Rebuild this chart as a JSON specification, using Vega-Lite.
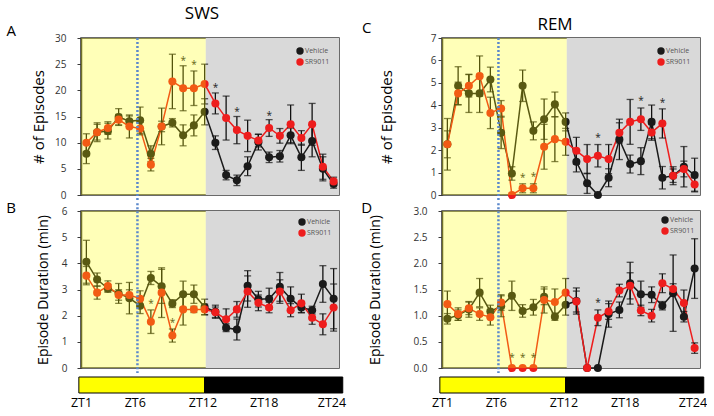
{
"$schema":"https://vega.github.io/schema/vega-lite/v6.json",
"padding":{"left":5,"top":3,"right":0,"bottom":0},
"background":"white",
"datasets":{
"phases":[{"phase":"light","start":0.5,"end":12.1},{"phase":"dark","start":12.1,"end":24.5}],
"bar":[{"phase":"light","start":0.3,"end":12.0},{"phase":"dark","start":12.0,"end":24.85}],
"stars":[
{"panel":"A","zt":10,"y":25.6},{"panel":"A","zt":11,"y":24.9},{"panel":"A","zt":13,"y":20.5},{"panel":"A","zt":15,"y":15.9},{"panel":"A","zt":18,"y":15.1},
{"panel":"B","zt":7,"y":2.44},{"panel":"B","zt":9,"y":1.73},
{"panel":"C","zt":8,"y":0.77},{"panel":"C","zt":9,"y":0.82},{"panel":"C","zt":15,"y":2.52},{"panel":"C","zt":19,"y":4.18},{"panel":"C","zt":21,"y":4.12},
{"panel":"D","zt":7,"y":0.19},{"panel":"D","zt":8,"y":0.19},{"panel":"D","zt":9,"y":0.19},{"panel":"D","zt":15,"y":1.24}
],
"obs":[
{"panel":"A","group":"Vehicle","zt":1,"mean":7.9,"err":1.9},
{"panel":"A","group":"Vehicle","zt":2,"mean":12.0,"err":1.8},
{"panel":"A","group":"Vehicle","zt":3,"mean":12.2,"err":1.5},
{"panel":"A","group":"Vehicle","zt":4,"mean":14.9,"err":1.6},
{"panel":"A","group":"Vehicle","zt":5,"mean":14.1,"err":1.0},
{"panel":"A","group":"Vehicle","zt":6,"mean":14.3,"err":2.5},
{"panel":"A","group":"Vehicle","zt":7,"mean":7.9,"err":1.5},
{"panel":"A","group":"Vehicle","zt":8,"mean":13.1,"err":1.0},
{"panel":"A","group":"Vehicle","zt":9,"mean":13.8,"err":0.8},
{"panel":"A","group":"Vehicle","zt":10,"mean":11.4,"err":2.0},
{"panel":"A","group":"Vehicle","zt":11,"mean":13.3,"err":2.0},
{"panel":"A","group":"Vehicle","zt":12,"mean":15.9,"err":2.5},
{"panel":"A","group":"Vehicle","zt":13,"mean":10.0,"err":1.3},
{"panel":"A","group":"Vehicle","zt":14,"mean":3.8,"err":0.9},
{"panel":"A","group":"Vehicle","zt":15,"mean":2.8,"err":1.0},
{"panel":"A","group":"Vehicle","zt":16,"mean":5.5,"err":1.8},
{"panel":"A","group":"Vehicle","zt":17,"mean":10.1,"err":1.5},
{"panel":"A","group":"Vehicle","zt":18,"mean":7.2,"err":1.0},
{"panel":"A","group":"Vehicle","zt":19,"mean":7.4,"err":1.1},
{"panel":"A","group":"Vehicle","zt":20,"mean":11.4,"err":1.4},
{"panel":"A","group":"Vehicle","zt":21,"mean":7.2,"err":2.5},
{"panel":"A","group":"Vehicle","zt":22,"mean":10.3,"err":3.0},
{"panel":"A","group":"Vehicle","zt":23,"mean":5.0,"err":2.3},
{"panel":"A","group":"Vehicle","zt":24,"mean":2.1,"err":0.8},
{"panel":"A","group":"SR9011","zt":1,"mean":10.0,"err":1.7},
{"panel":"A","group":"SR9011","zt":2,"mean":12.0,"err":1.5},
{"panel":"A","group":"SR9011","zt":3,"mean":12.8,"err":1.2},
{"panel":"A","group":"SR9011","zt":4,"mean":14.4,"err":1.0},
{"panel":"A","group":"SR9011","zt":5,"mean":13.1,"err":2.2},
{"panel":"A","group":"SR9011","zt":6,"mean":12.7,"err":1.2},
{"panel":"A","group":"SR9011","zt":7,"mean":5.8,"err":1.2},
{"panel":"A","group":"SR9011","zt":8,"mean":13.1,"err":3.5},
{"panel":"A","group":"SR9011","zt":9,"mean":21.7,"err":5.2},
{"panel":"A","group":"SR9011","zt":10,"mean":20.4,"err":4.3},
{"panel":"A","group":"SR9011","zt":11,"mean":20.4,"err":3.3},
{"panel":"A","group":"SR9011","zt":12,"mean":21.2,"err":3.8},
{"panel":"A","group":"SR9011","zt":13,"mean":17.5,"err":2.0},
{"panel":"A","group":"SR9011","zt":14,"mean":14.7,"err":4.2},
{"panel":"A","group":"SR9011","zt":15,"mean":12.4,"err":2.6},
{"panel":"A","group":"SR9011","zt":16,"mean":11.3,"err":3.0},
{"panel":"A","group":"SR9011","zt":17,"mean":10.4,"err":1.2},
{"panel":"A","group":"SR9011","zt":18,"mean":12.8,"err":1.6},
{"panel":"A","group":"SR9011","zt":19,"mean":11.3,"err":1.4},
{"panel":"A","group":"SR9011","zt":20,"mean":13.5,"err":3.7},
{"panel":"A","group":"SR9011","zt":21,"mean":10.9,"err":1.4},
{"panel":"A","group":"SR9011","zt":22,"mean":13.5,"err":4.0},
{"panel":"A","group":"SR9011","zt":23,"mean":5.4,"err":2.4},
{"panel":"A","group":"SR9011","zt":24,"mean":2.6,"err":0.8},
{"panel":"B","group":"Vehicle","zt":1,"mean":4.06,"err":0.82},
{"panel":"B","group":"Vehicle","zt":2,"mean":3.38,"err":0.25},
{"panel":"B","group":"Vehicle","zt":3,"mean":3.04,"err":0.15},
{"panel":"B","group":"Vehicle","zt":4,"mean":2.85,"err":0.38},
{"panel":"B","group":"Vehicle","zt":5,"mean":2.67,"err":0.6},
{"panel":"B","group":"Vehicle","zt":6,"mean":2.38,"err":0.3},
{"panel":"B","group":"Vehicle","zt":7,"mean":3.44,"err":0.25},
{"panel":"B","group":"Vehicle","zt":8,"mean":3.12,"err":0.65},
{"panel":"B","group":"Vehicle","zt":9,"mean":2.46,"err":0.15},
{"panel":"B","group":"Vehicle","zt":10,"mean":2.82,"err":0.5},
{"panel":"B","group":"Vehicle","zt":11,"mean":2.82,"err":0.35},
{"panel":"B","group":"Vehicle","zt":12,"mean":2.33,"err":0.3},
{"panel":"B","group":"Vehicle","zt":13,"mean":2.15,"err":0.25},
{"panel":"B","group":"Vehicle","zt":14,"mean":1.54,"err":0.15},
{"panel":"B","group":"Vehicle","zt":15,"mean":1.47,"err":0.4},
{"panel":"B","group":"Vehicle","zt":16,"mean":3.14,"err":0.58},
{"panel":"B","group":"Vehicle","zt":17,"mean":2.63,"err":0.3},
{"panel":"B","group":"Vehicle","zt":18,"mean":2.65,"err":0.4},
{"panel":"B","group":"Vehicle","zt":19,"mean":3.10,"err":0.55},
{"panel":"B","group":"Vehicle","zt":20,"mean":2.65,"err":0.45},
{"panel":"B","group":"Vehicle","zt":21,"mean":2.31,"err":0.2},
{"panel":"B","group":"Vehicle","zt":22,"mean":2.21,"err":0.15},
{"panel":"B","group":"Vehicle","zt":23,"mean":3.21,"err":0.7},
{"panel":"B","group":"Vehicle","zt":24,"mean":2.65,"err":1.15},
{"panel":"B","group":"SR9011","zt":1,"mean":3.53,"err":0.35},
{"panel":"B","group":"SR9011","zt":2,"mean":2.88,"err":0.25},
{"panel":"B","group":"SR9011","zt":3,"mean":3.13,"err":0.2},
{"panel":"B","group":"SR9011","zt":4,"mean":2.79,"err":0.2},
{"panel":"B","group":"SR9011","zt":5,"mean":2.79,"err":0.2},
{"panel":"B","group":"SR9011","zt":6,"mean":2.65,"err":0.3},
{"panel":"B","group":"SR9011","zt":7,"mean":1.77,"err":0.45},
{"panel":"B","group":"SR9011","zt":8,"mean":2.88,"err":0.95},
{"panel":"B","group":"SR9011","zt":9,"mean":1.24,"err":0.25},
{"panel":"B","group":"SR9011","zt":10,"mean":2.24,"err":0.6},
{"panel":"B","group":"SR9011","zt":11,"mean":2.24,"err":0.12},
{"panel":"B","group":"SR9011","zt":12,"mean":2.24,"err":0.2},
{"panel":"B","group":"SR9011","zt":13,"mean":2.13,"err":0.2},
{"panel":"B","group":"SR9011","zt":14,"mean":1.86,"err":0.4},
{"panel":"B","group":"SR9011","zt":15,"mean":2.24,"err":0.3},
{"panel":"B","group":"SR9011","zt":16,"mean":2.92,"err":0.6},
{"panel":"B","group":"SR9011","zt":17,"mean":2.49,"err":0.3},
{"panel":"B","group":"SR9011","zt":18,"mean":2.31,"err":0.2},
{"panel":"B","group":"SR9011","zt":19,"mean":2.92,"err":0.45},
{"panel":"B","group":"SR9011","zt":20,"mean":2.21,"err":0.25},
{"panel":"B","group":"SR9011","zt":21,"mean":2.47,"err":0.35},
{"panel":"B","group":"SR9011","zt":22,"mean":1.92,"err":0.25},
{"panel":"B","group":"SR9011","zt":23,"mean":1.67,"err":0.4},
{"panel":"B","group":"SR9011","zt":24,"mean":2.31,"err":0.9},
{"panel":"C","group":"Vehicle","zt":1,"mean":2.26,"err":1.15},
{"panel":"C","group":"Vehicle","zt":2,"mean":4.87,"err":0.85},
{"panel":"C","group":"Vehicle","zt":3,"mean":4.53,"err":0.85},
{"panel":"C","group":"Vehicle","zt":4,"mean":4.53,"err":0.85},
{"panel":"C","group":"Vehicle","zt":5,"mean":5.15,"err":0.55},
{"panel":"C","group":"Vehicle","zt":6,"mean":2.77,"err":0.7},
{"panel":"C","group":"Vehicle","zt":7,"mean":0.96,"err":0.3},
{"panel":"C","group":"Vehicle","zt":8,"mean":4.87,"err":0.7},
{"panel":"C","group":"Vehicle","zt":9,"mean":2.86,"err":0.4},
{"panel":"C","group":"Vehicle","zt":10,"mean":3.38,"err":0.9},
{"panel":"C","group":"Vehicle","zt":11,"mean":4.04,"err":0.55},
{"panel":"C","group":"Vehicle","zt":12,"mean":3.26,"err":0.4},
{"panel":"C","group":"Vehicle","zt":13,"mean":1.48,"err":0.45},
{"panel":"C","group":"Vehicle","zt":14,"mean":0.52,"err":0.45},
{"panel":"C","group":"Vehicle","zt":15,"mean":0.0,"err":0},
{"panel":"C","group":"Vehicle","zt":16,"mean":0.77,"err":0.4},
{"panel":"C","group":"Vehicle","zt":17,"mean":2.48,"err":0.9},
{"panel":"C","group":"Vehicle","zt":18,"mean":1.38,"err":0.4},
{"panel":"C","group":"Vehicle","zt":19,"mean":1.51,"err":0.6},
{"panel":"C","group":"Vehicle","zt":20,"mean":3.26,"err":0.75},
{"panel":"C","group":"Vehicle","zt":21,"mean":0.77,"err":0.5},
{"panel":"C","group":"Vehicle","zt":22,"mean":0.86,"err":0.3},
{"panel":"C","group":"Vehicle","zt":23,"mean":1.26,"err":0.9},
{"panel":"C","group":"Vehicle","zt":24,"mean":0.89,"err":0.75},
{"panel":"C","group":"SR9011","zt":1,"mean":2.26,"err":0.6},
{"panel":"C","group":"SR9011","zt":2,"mean":4.53,"err":0.5},
{"panel":"C","group":"SR9011","zt":3,"mean":4.87,"err":0.5},
{"panel":"C","group":"SR9011","zt":4,"mean":5.30,"err":0.9},
{"panel":"C","group":"SR9011","zt":5,"mean":3.66,"err":0.7},
{"panel":"C","group":"SR9011","zt":6,"mean":3.86,"err":0.35},
{"panel":"C","group":"SR9011","zt":7,"mean":0.0,"err":0},
{"panel":"C","group":"SR9011","zt":8,"mean":0.30,"err":0.2},
{"panel":"C","group":"SR9011","zt":9,"mean":0.30,"err":0.2},
{"panel":"C","group":"SR9011","zt":10,"mean":2.15,"err":1.0},
{"panel":"C","group":"SR9011","zt":11,"mean":2.49,"err":1.0},
{"panel":"C","group":"SR9011","zt":12,"mean":2.37,"err":0.6},
{"panel":"C","group":"SR9011","zt":13,"mean":1.97,"err":0.6},
{"panel":"C","group":"SR9011","zt":14,"mean":1.60,"err":0.65},
{"panel":"C","group":"SR9011","zt":15,"mean":1.75,"err":0.5},
{"panel":"C","group":"SR9011","zt":16,"mean":1.60,"err":0.65},
{"panel":"C","group":"SR9011","zt":17,"mean":2.77,"err":0.45},
{"panel":"C","group":"SR9011","zt":18,"mean":3.26,"err":1.0},
{"panel":"C","group":"SR9011","zt":19,"mean":3.38,"err":0.5},
{"panel":"C","group":"SR9011","zt":20,"mean":2.79,"err":0.35},
{"panel":"C","group":"SR9011","zt":21,"mean":3.19,"err":0.65},
{"panel":"C","group":"SR9011","zt":22,"mean":0.86,"err":0.4},
{"panel":"C","group":"SR9011","zt":23,"mean":1.16,"err":0.35},
{"panel":"C","group":"SR9011","zt":24,"mean":0.47,"err":0.3},
{"panel":"D","group":"Vehicle","zt":1,"mean":0.94,"err":0.1},
{"panel":"D","group":"Vehicle","zt":2,"mean":1.01,"err":0.1},
{"panel":"D","group":"Vehicle","zt":3,"mean":1.12,"err":0.15},
{"panel":"D","group":"Vehicle","zt":4,"mean":1.44,"err":0.27},
{"panel":"D","group":"Vehicle","zt":5,"mean":1.08,"err":0.12},
{"panel":"D","group":"Vehicle","zt":6,"mean":1.18,"err":0.2},
{"panel":"D","group":"Vehicle","zt":7,"mean":1.38,"err":0.28},
{"panel":"D","group":"Vehicle","zt":8,"mean":1.09,"err":0.12},
{"panel":"D","group":"Vehicle","zt":9,"mean":1.16,"err":0.15},
{"panel":"D","group":"Vehicle","zt":10,"mean":1.36,"err":0.15},
{"panel":"D","group":"Vehicle","zt":11,"mean":0.98,"err":0.07},
{"panel":"D","group":"Vehicle","zt":12,"mean":1.21,"err":0.2},
{"panel":"D","group":"Vehicle","zt":13,"mean":1.28,"err":0.25},
{"panel":"D","group":"Vehicle","zt":14,"mean":0.0,"err":0},
{"panel":"D","group":"Vehicle","zt":15,"mean":0.0,"err":0},
{"panel":"D","group":"Vehicle","zt":16,"mean":1.03,"err":0.25},
{"panel":"D","group":"Vehicle","zt":17,"mean":1.11,"err":0.15},
{"panel":"D","group":"Vehicle","zt":18,"mean":1.62,"err":0.4},
{"panel":"D","group":"Vehicle","zt":19,"mean":1.41,"err":0.25},
{"panel":"D","group":"Vehicle","zt":20,"mean":1.40,"err":0.15},
{"panel":"D","group":"Vehicle","zt":21,"mean":1.19,"err":0.08},
{"panel":"D","group":"Vehicle","zt":22,"mean":1.43,"err":0.73},
{"panel":"D","group":"Vehicle","zt":23,"mean":0.98,"err":0.1},
{"panel":"D","group":"Vehicle","zt":24,"mean":1.90,"err":0.57},
{"panel":"D","group":"SR9011","zt":1,"mean":1.22,"err":0.25},
{"panel":"D","group":"SR9011","zt":2,"mean":1.03,"err":0.12},
{"panel":"D","group":"SR9011","zt":3,"mean":1.14,"err":0.12},
{"panel":"D","group":"SR9011","zt":4,"mean":1.03,"err":0.12},
{"panel":"D","group":"SR9011","zt":5,"mean":0.97,"err":0.15},
{"panel":"D","group":"SR9011","zt":6,"mean":1.25,"err":0.15},
{"panel":"D","group":"SR9011","zt":7,"mean":0.0,"err":0},
{"panel":"D","group":"SR9011","zt":8,"mean":0.0,"err":0},
{"panel":"D","group":"SR9011","zt":9,"mean":0.0,"err":0},
{"panel":"D","group":"SR9011","zt":10,"mean":1.30,"err":0.25},
{"panel":"D","group":"SR9011","zt":11,"mean":1.26,"err":0.25},
{"panel":"D","group":"SR9011","zt":12,"mean":1.44,"err":0.27},
{"panel":"D","group":"SR9011","zt":13,"mean":1.27,"err":0.2},
{"panel":"D","group":"SR9011","zt":14,"mean":0.0,"err":0},
{"panel":"D","group":"SR9011","zt":15,"mean":0.96,"err":0.15},
{"panel":"D","group":"SR9011","zt":16,"mean":1.08,"err":0.15},
{"panel":"D","group":"SR9011","zt":17,"mean":1.48,"err":0.12},
{"panel":"D","group":"SR9011","zt":18,"mean":1.57,"err":0.25},
{"panel":"D","group":"SR9011","zt":19,"mean":1.10,"err":0.1},
{"panel":"D","group":"SR9011","zt":20,"mean":1.00,"err":0.12},
{"panel":"D","group":"SR9011","zt":21,"mean":1.62,"err":0.18},
{"panel":"D","group":"SR9011","zt":22,"mean":1.51,"err":0.1},
{"panel":"D","group":"SR9011","zt":23,"mean":1.24,"err":0.25},
{"panel":"D","group":"SR9011","zt":24,"mean":0.38,"err":0.1}
]
},
"columns":2,
"align":"each",
"spacing":{"row":-5,"column":14},
"resolve":{"scale":{"color":"independent"},"legend":{"color":"independent"}},
"concat":[
{
"width":258,"height":157,
"title":{"text":"SWS","dx":-8,"offset":1,"frame":"group"},
"layer":[
{"data":{"name":"phases"},"transform":[{"filter":"datum.phase==='dark'"}],"mark":{"type":"rect","fill":"#d9d9d9"},
 "encoding":{"x":{"field":"start","type":"quantitative","scale":{"domain":[0.5,24.5],"nice":false,"zero":false},"axis":null},"x2":{"field":"end"}}},
{"data":{"name":"obs"},"transform":[{"filter":"datum.panel==='A' && datum.group==='Vehicle'"}],"mark":{"type":"line","color":"#1a1a1a","strokeWidth":1.5},
 "encoding":{"x":{"field":"zt","type":"quantitative","scale":{"domain":[0.5,24.5],"nice":false,"zero":false},"axis":null},
  "y":{"field":"mean","type":"quantitative","title":"# of Episodes","scale":{"domain":[0,30],"nice":false},"axis":{"values":[0,5,10,15,20,25,30],"tickCount":7,"labelPadding":11,"titlePadding":8,"titleFontSize":15}}}},
{"data":{"name":"obs"},"transform":[{"filter":"datum.panel==='A' && datum.group==='SR9011'"}],"mark":{"type":"line","color":"#ee1d1d","strokeWidth":1.5},
 "encoding":{"x":{"field":"zt","type":"quantitative","scale":{"domain":[0.5,24.5],"nice":false,"zero":false},"axis":null},
  "y":{"field":"mean","type":"quantitative","title":"# of Episodes","scale":{"domain":[0,30],"nice":false},"axis":{"values":[0,5,10,15,20,25,30],"tickCount":7,"labelPadding":11,"titlePadding":8,"titleFontSize":15}}}},
{"data":{"name":"obs"},"transform":[{"filter":"datum.panel==='A'"}],"mark":{"type":"errorbar","ticks":true,"size":7,"thickness":1.3,"color":"#111"},
 "encoding":{"x":{"field":"zt","type":"quantitative","scale":{"domain":[0.5,24.5],"nice":false,"zero":false},"axis":null},
  "y":{"field":"mean","type":"quantitative","title":"# of Episodes","scale":{"domain":[0,30],"nice":false},"axis":{"values":[0,5,10,15,20,25,30],"tickCount":7,"labelPadding":11,"titlePadding":8,"titleFontSize":15}},
  "yError":{"field":"err"}}},
{"data":{"name":"obs"},"transform":[{"filter":"datum.panel==='A'"}],"mark":{"type":"point","filled":true,"size":65,"opacity":1},
 "encoding":{"x":{"field":"zt","type":"quantitative","scale":{"domain":[0.5,24.5],"nice":false,"zero":false},"axis":null},
  "y":{"field":"mean","type":"quantitative","title":"# of Episodes","scale":{"domain":[0,30],"nice":false},"axis":{"values":[0,5,10,15,20,25,30],"tickCount":7,"labelPadding":11,"titlePadding":8,"titleFontSize":15}},
  "color":{"field":"group","type":"nominal","scale":{"domain":["Vehicle","SR9011"],"range":["#1a1a1a","#ee1d1d"]},"legend":{"orient":"top-right","offset":9}}}},
{"data":{"name":"stars"},"transform":[{"filter":"datum.panel==='A'"}],"mark":{"type":"text","text":"*","fontSize":10,"baseline":"middle","color":"#222"},
 "encoding":{"x":{"field":"zt","type":"quantitative","scale":{"domain":[0.5,24.5],"nice":false,"zero":false},"axis":null},
  "y":{"field":"y","type":"quantitative","title":"# of Episodes","scale":{"domain":[0,30],"nice":false},"axis":{"values":[0,5,10,15,20,25,30],"tickCount":7,"labelPadding":11,"titlePadding":8,"titleFontSize":15}}}},
{"data":{"name":"phases"},"transform":[{"filter":"datum.phase==='light'"}],"mark":{"type":"rect","fill":"#ffff00","opacity":0.28},
 "encoding":{"x":{"field":"start","type":"quantitative","scale":{"domain":[0.5,24.5],"nice":false,"zero":false},"axis":null},"x2":{"field":"end"}}},
{"data":{"values":[{"mark":"drug"}]},"mark":{"type":"rule","color":"#5b88cc","strokeDash":[2,2],"strokeWidth":2.5},
 "encoding":{"x":{"datum":5.75},"y":{"datum":30},"y2":{"datum":-1.35}}},
{"data":{"values":[{"label":"A"}]},"mark":{"type":"text","fontSize":15,"baseline":"middle","align":"center","color":"#000"},
 "encoding":{"text":{"field":"label"},"x":{"datum":-6.0},"y":{"datum":31.4}}}
]
},
{
"width":258,"height":157,
"title":{"text":"REM","dx":-16,"offset":-13,"frame":"group"},
"layer":[
{"data":{"name":"phases"},"transform":[{"filter":"datum.phase==='dark'"}],"mark":{"type":"rect","fill":"#d9d9d9"},
 "encoding":{"x":{"field":"start","type":"quantitative","scale":{"domain":[0.5,24.5],"nice":false,"zero":false},"axis":null},"x2":{"field":"end"}}},
{"data":{"name":"obs"},"transform":[{"filter":"datum.panel==='C' && datum.group==='Vehicle'"}],"mark":{"type":"line","color":"#1a1a1a","strokeWidth":1.5},
 "encoding":{"x":{"field":"zt","type":"quantitative","scale":{"domain":[0.5,24.5],"nice":false,"zero":false},"axis":null},
  "y":{"field":"mean","type":"quantitative","title":"# of Episodes","scale":{"domain":[0,7],"nice":false},"axis":{"values":[0,1,2,3,4,5,6,7],"tickCount":8,"labelPadding":2,"titlePadding":36,"titleFontSize":15}}}},
{"data":{"name":"obs"},"transform":[{"filter":"datum.panel==='C' && datum.group==='SR9011'"}],"mark":{"type":"line","color":"#ee1d1d","strokeWidth":1.5},
 "encoding":{"x":{"field":"zt","type":"quantitative","scale":{"domain":[0.5,24.5],"nice":false,"zero":false},"axis":null},
  "y":{"field":"mean","type":"quantitative","title":"# of Episodes","scale":{"domain":[0,7],"nice":false},"axis":{"values":[0,1,2,3,4,5,6,7],"tickCount":8,"labelPadding":2,"titlePadding":36,"titleFontSize":15}}}},
{"data":{"name":"obs"},"transform":[{"filter":"datum.panel==='C'"}],"mark":{"type":"errorbar","ticks":true,"size":7,"thickness":1.3,"color":"#111"},
 "encoding":{"x":{"field":"zt","type":"quantitative","scale":{"domain":[0.5,24.5],"nice":false,"zero":false},"axis":null},
  "y":{"field":"mean","type":"quantitative","title":"# of Episodes","scale":{"domain":[0,7],"nice":false},"axis":{"values":[0,1,2,3,4,5,6,7],"tickCount":8,"labelPadding":2,"titlePadding":36,"titleFontSize":15}},
  "yError":{"field":"err"}}},
{"data":{"name":"obs"},"transform":[{"filter":"datum.panel==='C'"}],"mark":{"type":"point","filled":true,"size":65,"opacity":1},
 "encoding":{"x":{"field":"zt","type":"quantitative","scale":{"domain":[0.5,24.5],"nice":false,"zero":false},"axis":null},
  "y":{"field":"mean","type":"quantitative","title":"# of Episodes","scale":{"domain":[0,7],"nice":false},"axis":{"values":[0,1,2,3,4,5,6,7],"tickCount":8,"labelPadding":2,"titlePadding":36,"titleFontSize":15}},
  "color":{"field":"group","type":"nominal","scale":{"domain":["Vehicle","SR9011"],"range":["#1a1a1a","#ee1d1d"]},"legend":{"orient":"top-right","offset":9}}}},
{"data":{"name":"stars"},"transform":[{"filter":"datum.panel==='C'"}],"mark":{"type":"text","text":"*","fontSize":10,"baseline":"middle","color":"#222"},
 "encoding":{"x":{"field":"zt","type":"quantitative","scale":{"domain":[0.5,24.5],"nice":false,"zero":false},"axis":null},
  "y":{"field":"y","type":"quantitative","title":"# of Episodes","scale":{"domain":[0,7],"nice":false},"axis":{"values":[0,1,2,3,4,5,6,7],"tickCount":8,"labelPadding":2,"titlePadding":36,"titleFontSize":15}}}},
{"data":{"name":"phases"},"transform":[{"filter":"datum.phase==='light'"}],"mark":{"type":"rect","fill":"#ffff00","opacity":0.28},
 "encoding":{"x":{"field":"start","type":"quantitative","scale":{"domain":[0.5,24.5],"nice":false,"zero":false},"axis":null},"x2":{"field":"end"}}},
{"data":{"values":[{"mark":"drug"}]},"mark":{"type":"rule","color":"#5b88cc","strokeDash":[2,2],"strokeWidth":2.5},
 "encoding":{"x":{"datum":5.75},"y":{"datum":7},"y2":{"datum":-0.31}}},
{"data":{"values":[{"label":"C"}]},"mark":{"type":"text","fontSize":15,"baseline":"middle","align":"center","color":"#000"},
 "encoding":{"text":{"field":"label"},"x":{"datum":-6.5},"y":{"datum":7.45}}}
]
},
{
"width":258,"height":157,
"layer":[
{"data":{"name":"phases"},"transform":[{"filter":"datum.phase==='dark'"}],"mark":{"type":"rect","fill":"#d9d9d9"},
 "encoding":{"x":{"field":"start","type":"quantitative","scale":{"domain":[0.5,24.5],"nice":false,"zero":false},"axis":null},"x2":{"field":"end"}}},
{"data":{"name":"obs"},"transform":[{"filter":"datum.panel==='B' && datum.group==='Vehicle'"}],"mark":{"type":"line","color":"#1a1a1a","strokeWidth":1.5},
 "encoding":{"x":{"field":"zt","type":"quantitative","scale":{"domain":[0.5,24.5],"nice":false,"zero":false},"axis":null},
  "y":{"field":"mean","type":"quantitative","title":"Episode Duration (min)","scale":{"domain":[0,6],"nice":false},"axis":{"values":[0,1,2,3,4,5,6],"tickCount":7,"labelPadding":10,"titlePadding":11}}}},
{"data":{"name":"obs"},"transform":[{"filter":"datum.panel==='B' && datum.group==='SR9011'"}],"mark":{"type":"line","color":"#ee1d1d","strokeWidth":1.5},
 "encoding":{"x":{"field":"zt","type":"quantitative","scale":{"domain":[0.5,24.5],"nice":false,"zero":false},"axis":null},
  "y":{"field":"mean","type":"quantitative","title":"Episode Duration (min)","scale":{"domain":[0,6],"nice":false},"axis":{"values":[0,1,2,3,4,5,6],"tickCount":7,"labelPadding":10,"titlePadding":11}}}},
{"data":{"name":"obs"},"transform":[{"filter":"datum.panel==='B'"}],"mark":{"type":"errorbar","ticks":true,"size":7,"thickness":1.3,"color":"#111"},
 "encoding":{"x":{"field":"zt","type":"quantitative","scale":{"domain":[0.5,24.5],"nice":false,"zero":false},"axis":null},
  "y":{"field":"mean","type":"quantitative","title":"Episode Duration (min)","scale":{"domain":[0,6],"nice":false},"axis":{"values":[0,1,2,3,4,5,6],"tickCount":7,"labelPadding":10,"titlePadding":11}},
  "yError":{"field":"err"}}},
{"data":{"name":"obs"},"transform":[{"filter":"datum.panel==='B'"}],"mark":{"type":"point","filled":true,"size":65,"opacity":1},
 "encoding":{"x":{"field":"zt","type":"quantitative","scale":{"domain":[0.5,24.5],"nice":false,"zero":false},"axis":null},
  "y":{"field":"mean","type":"quantitative","title":"Episode Duration (min)","scale":{"domain":[0,6],"nice":false},"axis":{"values":[0,1,2,3,4,5,6],"tickCount":7,"labelPadding":10,"titlePadding":11}},
  "color":{"field":"group","type":"nominal","scale":{"domain":["Vehicle","SR9011"],"range":["#1a1a1a","#ee1d1d"]},"legend":{"orient":"top-right","offset":7}}}},
{"data":{"name":"stars"},"transform":[{"filter":"datum.panel==='B'"}],"mark":{"type":"text","text":"*","fontSize":10,"baseline":"middle","color":"#222"},
 "encoding":{"x":{"field":"zt","type":"quantitative","scale":{"domain":[0.5,24.5],"nice":false,"zero":false},"axis":null},
  "y":{"field":"y","type":"quantitative","title":"Episode Duration (min)","scale":{"domain":[0,6],"nice":false},"axis":{"values":[0,1,2,3,4,5,6],"tickCount":7,"labelPadding":10,"titlePadding":11}}}},
{"data":{"name":"phases"},"transform":[{"filter":"datum.phase==='light'"}],"mark":{"type":"rect","fill":"#ffff00","opacity":0.28},
 "encoding":{"x":{"field":"start","type":"quantitative","scale":{"domain":[0.5,24.5],"nice":false,"zero":false},"axis":null},"x2":{"field":"end"}}},
{"data":{"values":[{"mark":"drug"}]},"mark":{"type":"rule","color":"#5b88cc","strokeDash":[2,2],"strokeWidth":2.5},
 "encoding":{"x":{"datum":5.75},"y":{"datum":6.3},"y2":{"datum":-0.19}}},
{"data":{"values":[{"label":"B"}]},"mark":{"type":"text","fontSize":15,"baseline":"middle","align":"center","color":"#000"},
 "encoding":{"text":{"field":"label"},"x":{"datum":-6.0},"y":{"datum":6.11}}}
]
},
{
"width":258,"height":157,
"layer":[
{"data":{"name":"phases"},"transform":[{"filter":"datum.phase==='dark'"}],"mark":{"type":"rect","fill":"#d9d9d9"},
 "encoding":{"x":{"field":"start","type":"quantitative","scale":{"domain":[0.5,24.5],"nice":false,"zero":false},"axis":null},"x2":{"field":"end"}}},
{"data":{"name":"obs"},"transform":[{"filter":"datum.panel==='D' && datum.group==='Vehicle'"}],"mark":{"type":"line","color":"#1a1a1a","strokeWidth":1.5},
 "encoding":{"x":{"field":"zt","type":"quantitative","scale":{"domain":[0.5,24.5],"nice":false,"zero":false},"axis":null},
  "y":{"field":"mean","type":"quantitative","title":"Episode Duration (min)","scale":{"domain":[0,3],"nice":false},"axis":{"values":[0,0.5,1,1.5,2,2.5,3],"tickCount":7,"format":".1f","labelPadding":11,"titlePadding":30}}}},
{"data":{"name":"obs"},"transform":[{"filter":"datum.panel==='D' && datum.group==='SR9011'"}],"mark":{"type":"line","color":"#ee1d1d","strokeWidth":1.5},
 "encoding":{"x":{"field":"zt","type":"quantitative","scale":{"domain":[0.5,24.5],"nice":false,"zero":false},"axis":null},
  "y":{"field":"mean","type":"quantitative","title":"Episode Duration (min)","scale":{"domain":[0,3],"nice":false},"axis":{"values":[0,0.5,1,1.5,2,2.5,3],"tickCount":7,"format":".1f","labelPadding":11,"titlePadding":30}}}},
{"data":{"name":"obs"},"transform":[{"filter":"datum.panel==='D'"}],"mark":{"type":"errorbar","ticks":true,"size":7,"thickness":1.3,"color":"#111"},
 "encoding":{"x":{"field":"zt","type":"quantitative","scale":{"domain":[0.5,24.5],"nice":false,"zero":false},"axis":null},
  "y":{"field":"mean","type":"quantitative","title":"Episode Duration (min)","scale":{"domain":[0,3],"nice":false},"axis":{"values":[0,0.5,1,1.5,2,2.5,3],"tickCount":7,"format":".1f","labelPadding":11,"titlePadding":30}},
  "yError":{"field":"err"}}},
{"data":{"name":"obs"},"transform":[{"filter":"datum.panel==='D'"}],"mark":{"type":"point","filled":true,"size":65,"opacity":1},
 "encoding":{"x":{"field":"zt","type":"quantitative","scale":{"domain":[0.5,24.5],"nice":false,"zero":false},"axis":null},
  "y":{"field":"mean","type":"quantitative","title":"Episode Duration (min)","scale":{"domain":[0,3],"nice":false},"axis":{"values":[0,0.5,1,1.5,2,2.5,3],"tickCount":7,"format":".1f","labelPadding":11,"titlePadding":30}},
  "color":{"field":"group","type":"nominal","scale":{"domain":["Vehicle","SR9011"],"range":["#1a1a1a","#ee1d1d"]},"legend":{"orient":"top-right","offset":5}}}},
{"data":{"name":"stars"},"transform":[{"filter":"datum.panel==='D'"}],"mark":{"type":"text","text":"*","fontSize":10,"baseline":"middle","color":"#222"},
 "encoding":{"x":{"field":"zt","type":"quantitative","scale":{"domain":[0.5,24.5],"nice":false,"zero":false},"axis":null},
  "y":{"field":"y","type":"quantitative","title":"Episode Duration (min)","scale":{"domain":[0,3],"nice":false},"axis":{"values":[0,0.5,1,1.5,2,2.5,3],"tickCount":7,"format":".1f","labelPadding":11,"titlePadding":30}}}},
{"data":{"name":"phases"},"transform":[{"filter":"datum.phase==='light'"}],"mark":{"type":"rect","fill":"#ffff00","opacity":0.28},
 "encoding":{"x":{"field":"start","type":"quantitative","scale":{"domain":[0.5,24.5],"nice":false,"zero":false},"axis":null},"x2":{"field":"end"}}},
{"data":{"values":[{"mark":"drug"}]},"mark":{"type":"rule","color":"#5b88cc","strokeDash":[2,2],"strokeWidth":2.5},
 "encoding":{"x":{"datum":5.75},"y":{"datum":3.15},"y2":{"datum":-0.095}}},
{"data":{"values":[{"label":"D"}]},"mark":{"type":"text","fontSize":15,"baseline":"middle","align":"center","color":"#000"},
 "encoding":{"text":{"field":"label"},"x":{"datum":-6.5},"y":{"datum":3.057}}}
]
},
{
"width":258,"height":16,"view":{"stroke":null},
"title":{"text":" ","fontSize":6,"offset":0},
"data":{"name":"bar"},
"mark":{"type":"rect","stroke":"#000","strokeWidth":1},
"encoding":{
 "x":{"field":"start","type":"quantitative","scale":{"domain":[0.5,24.5],"nice":false,"zero":false},
  "axis":{"orient":"bottom","values":[0.5,5.5,11.8,17.5,23.8],"labelExpr":"datum.value < 1 ? 'ZT1' : datum.value < 6 ? 'ZT6' : datum.value < 12 ? 'ZT12' : datum.value < 18 ? 'ZT18' : 'ZT24'","domain":false,"ticks":false,"labelFontSize":12.5,"labelColor":"#000","labelPadding":3,"labelFlush":false,"labelOverlap":false,"labelBound":false,"title":null}},
 "x2":{"field":"end"},
 "color":{"field":"phase","type":"nominal","scale":{"domain":["light","dark"],"range":["#ffff00","#000000"]},"legend":null}
}
},
{
"width":258,"height":16,"view":{"stroke":null},
"title":{"text":" ","fontSize":6,"offset":0},
"data":{"name":"bar"},
"mark":{"type":"rect","stroke":"#000","strokeWidth":1},
"encoding":{
 "x":{"field":"start","type":"quantitative","scale":{"domain":[0.5,24.5],"nice":false,"zero":false},
  "axis":{"orient":"bottom","values":[0.5,5.5,11.8,17.5,23.8],"labelExpr":"datum.value < 1 ? 'ZT1' : datum.value < 6 ? 'ZT6' : datum.value < 12 ? 'ZT12' : datum.value < 18 ? 'ZT18' : 'ZT24'","domain":false,"ticks":false,"labelFontSize":12.5,"labelColor":"#000","labelPadding":3,"labelFlush":false,"labelOverlap":false,"labelBound":false,"title":null}},
 "x2":{"field":"end"},
 "color":{"field":"phase","type":"nominal","scale":{"domain":["light","dark"],"range":["#ffff00","#000000"]},"legend":null}
}
}
],
"config":{
 "font":"Open Sans",
 "view":{"stroke":"#3a3a3a","strokeWidth":1.5},
 "title":{"font":"Open Sans","fontSize":17,"fontWeight":"normal","color":"#000","baseline":"alphabetic"},
 "axis":{"grid":false,"labelFont":"Open Sans","labelFontSize":10,"labelColor":"#333","labelOverlap":false,"labelBound":false,"titleFont":"Open Sans","titleFontSize":14,"titleFontWeight":"normal","titleColor":"#000","domainColor":"#3a3a3a","domainWidth":1.5,"tickColor":"#3a3a3a","tickSize":4},
 "legend":{"title":null,"labelFont":"Open Sans","labelFontSize":7,"labelColor":"#555","symbolType":"circle","symbolSize":55,"symbolStrokeWidth":0,"padding":0,"rowPadding":3,"labelOffset":1},
 "text":{"font":"Open Sans"}
}
}
